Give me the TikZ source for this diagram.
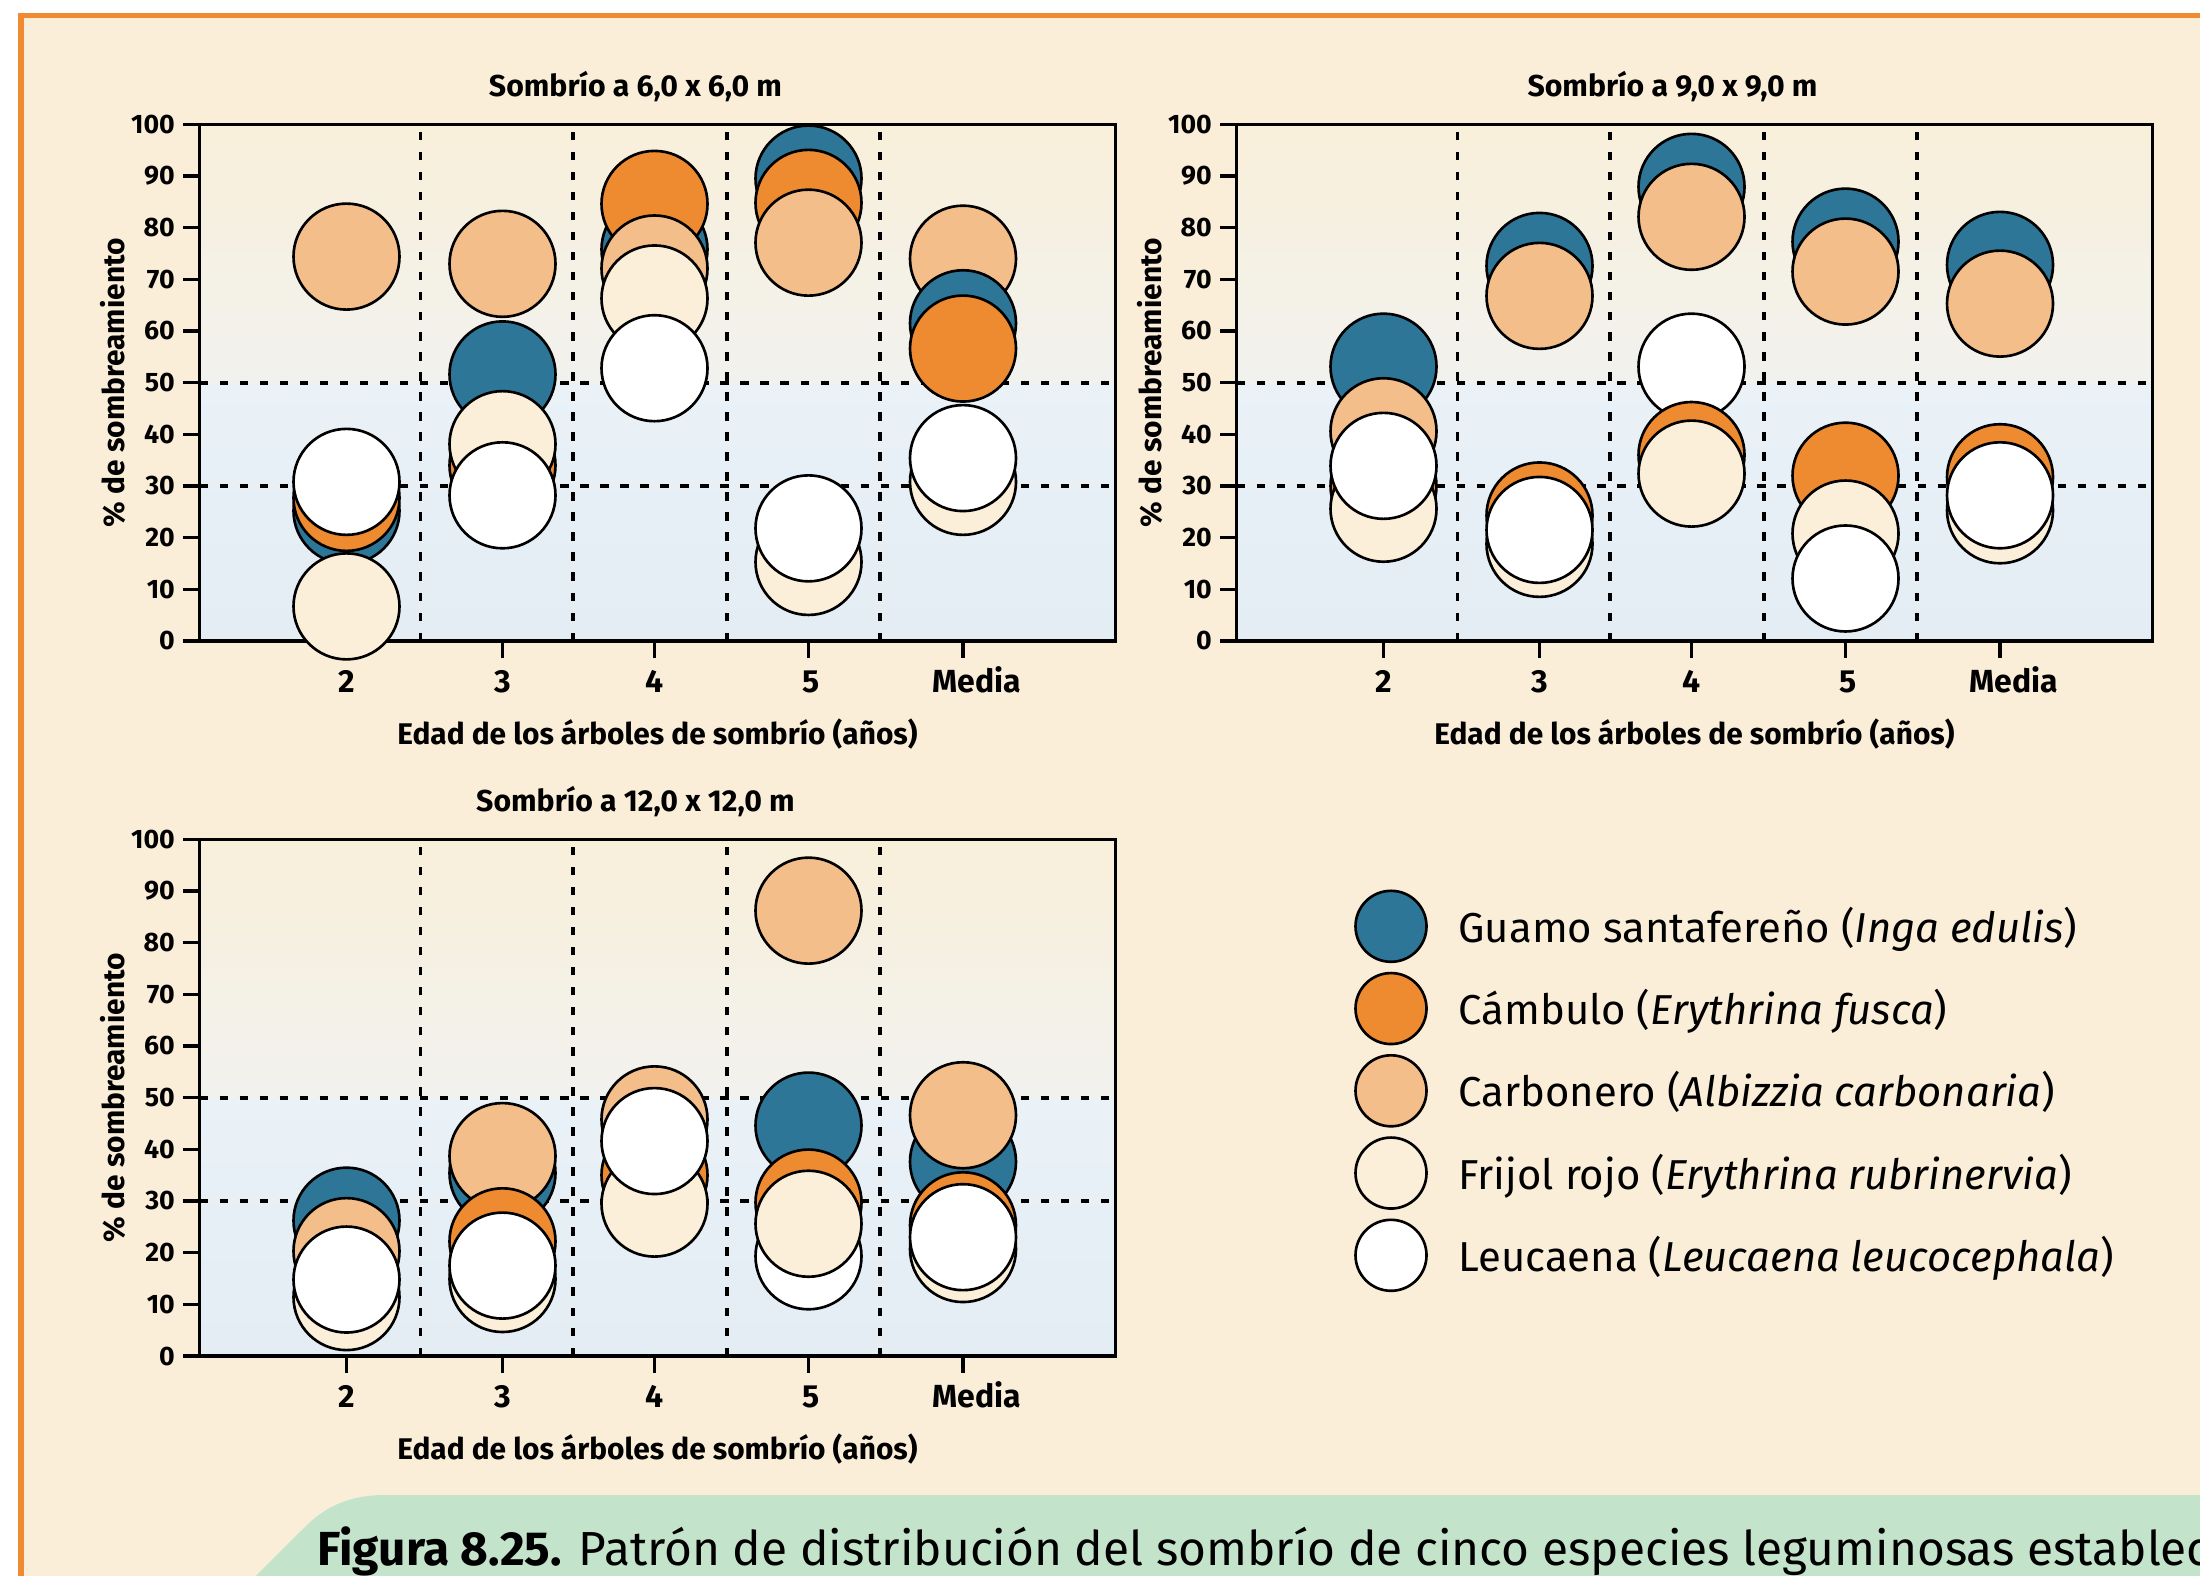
\documentclass[tikz,border=0pt]{standalone}
\usepackage{fontspec}
\setmainfont{Fira Sans}
\usetikzlibrary{positioning}

\definecolor{guamo}{HTML}{2E7698}
\definecolor{cambulo}{HTML}{EE8A30}
\definecolor{carbonero}{HTML}{F4BE8A}
\definecolor{frijol}{HTML}{FCEFD9}
\definecolor{leucaena}{HTML}{FFFFFF}
\definecolor{fondo}{HTML}{FBEED8}
\definecolor{marco}{HTML}{F08B33}
\definecolor{pie}{HTML}{C4E3CB}
\definecolor{crema}{HTML}{F9F0DA}
\definecolor{gris}{HTML}{F1F1EE}
\definecolor{cieloA}{HTML}{EAF2F8}
\definecolor{cieloB}{HTML}{E4ECF4}

\tikzset{
  bola/.style={draw=black, line width=0.75pt},
  eje/.style={line width=0.95pt},
  rejilla/.style={line width=1.1pt, dash pattern=on 2.4pt off 3.3pt},
  marca/.style={font=\fontsize{7.6}{9}\selectfont\bfseries, inner sep=0},
  categ/.style={font=\fontsize{9.1}{10}\selectfont\bfseries, inner sep=0},
  titulo/.style={font=\fontsize{8.6}{10}\selectfont\bfseries, inner sep=0},
  etiq/.style={font=\fontsize{8.5}{10}\selectfont\bfseries, inner sep=0},
  leyenda/.style={circle, draw=black, line width=0.75pt, minimum size=0.71cm, inner sep=0},
  texto/.style={font=\fontsize{11.9}{14}\selectfont, inner sep=0},
}

% one column of bubbles, drawn in the given order
\newcommand{\bolas}[2]{\foreach \esp/\val in {#2} \draw[bola, fill=\esp] (#1,\val) circle[radius=0.53cm];}

% one panel: name, lower left corner of the frame, title, bubbles
\newcommand{\panel}[4]{%
\begin{scope}[shift={#2}, y=0.05166cm]
  \shade[bottom color=cieloB, top color=cieloA] (0,0) rectangle (9.16,50);
  \shade[bottom color=gris, top color=crema] (0,50) rectangle (9.16,100);
  \foreach \x in {2.21,3.735,5.277,6.808} \draw[rejilla] (\x,0) -- (\x,100);
  \foreach \v in {30,50} \draw[rejilla] (0,\v) -- (9.16,\v);
  \draw[eje] (0,0) rectangle (9.16,100);
  \foreach \v in {0,10,...,100} {
    \draw[eje] (-0.165,\v) -- (0,\v);
    \node[marca, anchor=east] (#1y\v) at (-0.24,\v) {\v};
  }
  \foreach \x/\lab/\dx in {1.47/2/0,3.03/3/0,4.55/4/0,6.09/5/0.03,7.635/Media/0.14} {
    \draw[eje] (\x,0) -- (\x,-3.3);
    \node[categ, anchor=base] (#1x\lab) at (\x+\dx,-9.9) {\lab};
  }
  \node[titulo, anchor=base] (#1t) at (4.36,105.4) {#3};
  \node[etiq, anchor=base] (#1e) at (4.58,-20.1) {Edad de los árboles de sombrío (años)};
  \node[etiq, rotate=90] (#1s) at (-0.87,50) {\% de sombreamiento};
  #4
\end{scope}}

\begin{document}
\begin{tikzpicture}
\useasboundingbox (0,0) rectangle (22,15.75);
\clip (0,0) rectangle (22,15.75);
\fill[white] (0,0) rectangle (22,15.75);
\fill[fondo] (0.21,-1) rectangle (23,15.595);
\draw[marco, line width=1.56pt] (0.21,-1) rectangle (23,15.595);

\panel{p1}{(1.995,9.34)}{Sombrío a 6,0 x 6,0 m}{%
  \bolas{1.47}{guamo/25.2, cambulo/27.7, carbonero/74.4, frijol/6.7, leucaena/30.8}
  \bolas{3.03}{guamo/51.6, cambulo/34, carbonero/73, frijol/38.1, leucaena/28.2}
  \bolas{4.55}{guamo/75.8, cambulo/84.6, carbonero/72.1, frijol/66.3, leucaena/52.8}
  \bolas{6.09}{guamo/89.5, cambulo/84.8, carbonero/77.1, frijol/15.3, leucaena/21.8}
  \bolas{7.635}{carbonero/74, guamo/61.5, cambulo/56.6, frijol/30.8, leucaena/35.4}}

\panel{p2}{(12.365,9.34)}{Sombrío a 9,0 x 9,0 m}{%
  \bolas{1.47}{guamo/53.1, cambulo/30, carbonero/40.6, frijol/25.6, leucaena/33.9}
  \bolas{3.03}{guamo/72.6, cambulo/24.3, carbonero/66.8, frijol/18.8, leucaena/21.5}
  \bolas{4.55}{guamo/87.9, carbonero/82.1, leucaena/53.1, cambulo/36, frijol/32.4}
  \bolas{6.09}{guamo/77.3, cambulo/32, carbonero/71.5, frijol/20.8, leucaena/12.1}
  \bolas{7.635}{guamo/72.8, cambulo/31.7, carbonero/65.3, frijol/25.3, leucaena/28.2}}

\panel{p3}{(1.995,2.19)}{Sombrío a 12,0 x 12,0 m}{%
  \bolas{1.47}{guamo/26.2, carbonero/20.3, frijol/11.4, leucaena/14.8}
  \bolas{3.03}{guamo/35.4, carbonero/38.7, cambulo/22.2, frijol/14.9, leucaena/17.5}
  \bolas{4.55}{cambulo/35, carbonero/45.8, frijol/29.5, leucaena/41.6}
  \bolas{6.09}{carbonero/86.2, guamo/44.6, cambulo/29.7, leucaena/19.3, frijol/25.6}
  \bolas{7.635}{guamo/37.6, carbonero/46.6, cambulo/25.3, frijol/20.7, leucaena/23.0}}

% legend
\foreach \esp/\lab [count=\i] in {guamo/{Guamo santafereño (\textit{Inga edulis})},
    cambulo/{Cámbulo (\textit{Erythrina fusca})},
    carbonero/{Carbonero (\textit{Albizzia carbonaria})},
    frijol/{Frijol rojo (\textit{Erythrina rubrinervia})},
    leucaena/{Leucaena (\textit{Leucaena leucocephala})}} {
  \node[leyenda, fill=\esp] (ley\i) at (13.91,{6.487-0.8225*(\i-1)}) {};
  \node[texto, anchor=base west] (txt\i) at ([xshift=0.3cm, yshift=-0.16cm]ley\i.east) {\lab};
}

% caption band
\fill[pie] (2.467,-0.1) -- (3.05,0.48) .. controls (3.22,0.65) and (3.45,0.8) .. (3.85,0.8) -- (22.5,0.8) -- (22.5,-0.1) -- cycle;
\node[anchor=base west, inner sep=0, font=\fontsize{13.6}{16}\selectfont] (pie) at (3.167,0.10)
  {\textbf{Figura 8.25.} Patrón de distribución del sombrío de cinco especies leguminosas establec};
\end{tikzpicture}
\end{document}
